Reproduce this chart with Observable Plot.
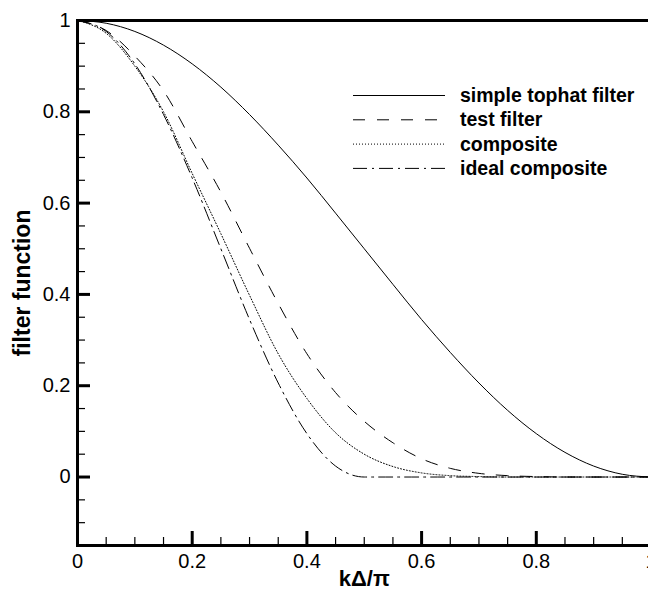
<!DOCTYPE html>
<html>
<head>
<meta charset="utf-8">
<script src="https://cdn.jsdelivr.net/npm/d3@7"></script>
<script src="https://cdn.jsdelivr.net/npm/@observablehq/plot@0.6"></script>
<style>
  html, body { margin: 0; padding: 0; background: #fff; overflow: hidden; }
</style>
</head>
<body>
<div id="chart"></div>
<script>
// k*Delta/pi sample positions
const xs = [0, 0.05, 0.1, 0.15, 0.2, 0.25, 0.3, 0.35, 0.4, 0.45, 0.5, 0.55, 0.6, 0.65, 0.7, 0.75, 0.8, 0.85, 0.9, 0.95, 1];
// series values
const tophat     = [1, 0.994, 0.976, 0.946, 0.905, 0.854, 0.794, 0.727, 0.655, 0.578, 0.5, 0.422, 0.345, 0.273, 0.206, 0.146, 0.095, 0.054, 0.024, 0.006, 0];
const testFilter = [1, 0.978, 0.922, 0.846, 0.735, 0.624, 0.501, 0.38, 0.27, 0.185, 0.122, 0.075, 0.04, 0.019, 0.008, 0.003, 0.001, 0, 0, 0, 0];
const composite  = [1, 0.972, 0.9, 0.8, 0.665, 0.533, 0.398, 0.27, 0.172, 0.097, 0.05, 0.023, 0.009, 0.003, 0.001, 0, 0, 0, 0, 0, 0];
const ideal      = [1, 0.976, 0.905, 0.794, 0.655, 0.5, 0.345, 0.206, 0.095, 0.024, 0, 0, 0, 0, 0, 0, 0, 0, 0, 0, 0];

const seriesNames = ["simple tophat filter", "test filter", "composite", "ideal composite"];
const seriesValues = [tophat, testFilter, composite, ideal];
const seriesDash = [null, "12,12", "1,2", "14,5,2,5"];

// tick labels
const xTicks = [0, 0.2, 0.4, 0.6, 0.8, 1];
const yTicks = [0, 0.2, 0.4, 0.6, 0.8, 1];
const xMinor = [0.05, 0.1, 0.15, 0.25, 0.3, 0.35, 0.45, 0.5, 0.55, 0.65, 0.7, 0.75, 0.85, 0.9, 0.95];
const yMinor = [-0.1, -0.05, 0.05, 0.1, 0.15, 0.25, 0.3, 0.35, 0.45, 0.5, 0.55, 0.65, 0.7, 0.75, 0.85, 0.9, 0.95];
const xLabel = "kΔ/π";
const yLabel = "filter function";

const rows = seriesNames.map((name, s) =>
  xs.map((x, i) => ({series: name, x, y: seriesValues[s][i]}))
);

const W = 652, H = 589, mL = 77, mT = 20, mB = 44, mR = 1.5;
const frameW = W - mL - mR, frameH = H - mT - mB;
const font = "'Liberation Sans', Arial, Helvetica, sans-serif";

const plot = Plot.plot({
  width: W,
  height: H,
  marginLeft: mL,
  marginTop: mT,
  marginBottom: mB,
  marginRight: mR,
  style: {maxWidth: "none", fontFamily: font, background: "white", color: "black"},
  x: {domain: [0, 1]},
  y: {domain: [-0.15, 1]},
  marks: [
    ...rows.map((r, s) => Plot.line(r, {
      x: "x", y: "y", stroke: "black", strokeWidth: 1,
      strokeDasharray: seriesDash[s], curve: "monotone-x"
    })),
    // inward ticks
    Plot.ruleX(xTicks, {stroke: "black", strokeWidth: 3, insetTop: frameH - 14}),
    Plot.ruleX(xMinor, {stroke: "black", strokeWidth: 1.2, insetTop: frameH - 8}),
    Plot.ruleY(yTicks, {stroke: "black", strokeWidth: 3, insetRight: frameW - 13}),
    Plot.ruleY(yMinor, {stroke: "black", strokeWidth: 1.2, insetRight: frameW - 8}),
    Plot.axisX({ticks: xTicks, tickSize: 0, tickPadding: 8, fontSize: 20, label: null, tickFormat: d => String(d)}),
    Plot.axisY({ticks: yTicks, tickSize: 0, tickPadding: 7, fontSize: 20, label: null, tickFormat: d => String(d)}),
    Plot.text([xLabel], {frameAnchor: "bottom", dy: 33, text: d => d, fontSize: 22, fontWeight: "bold", lineAnchor: "middle", textAnchor: "middle"}),
    Plot.text([yLabel], {frameAnchor: "left", dx: -54.5, rotate: -90, text: d => d, fontSize: 23, fontWeight: "bold", lineAnchor: "middle", textAnchor: "middle"}),
    Plot.frame({stroke: "black", strokeWidth: 3})
  ]
});

// legend (layout in pixels)
const svg = d3.select(plot);
const lg = svg.append("g").attr("text-anchor", "start");
seriesNames.forEach((name, i) => {
  const cy = 95.5 + i * 24.3;
  lg.append("line")
    .attr("x1", 353).attr("x2", 445).attr("y1", cy).attr("y2", cy)
    .attr("stroke", "black").attr("stroke-width", 1)
    .attr("stroke-dasharray", seriesDash[i]);
  lg.append("text")
    .attr("x", 460).attr("y", cy + 6.5)
    .attr("text-anchor", "start")
    .attr("font-family", font).attr("font-size", 19.5).attr("font-weight", "bold")
    .attr("fill", "black")
    .text(name);
});

document.getElementById("chart").appendChild(plot);
</script>
</body>
</html>
